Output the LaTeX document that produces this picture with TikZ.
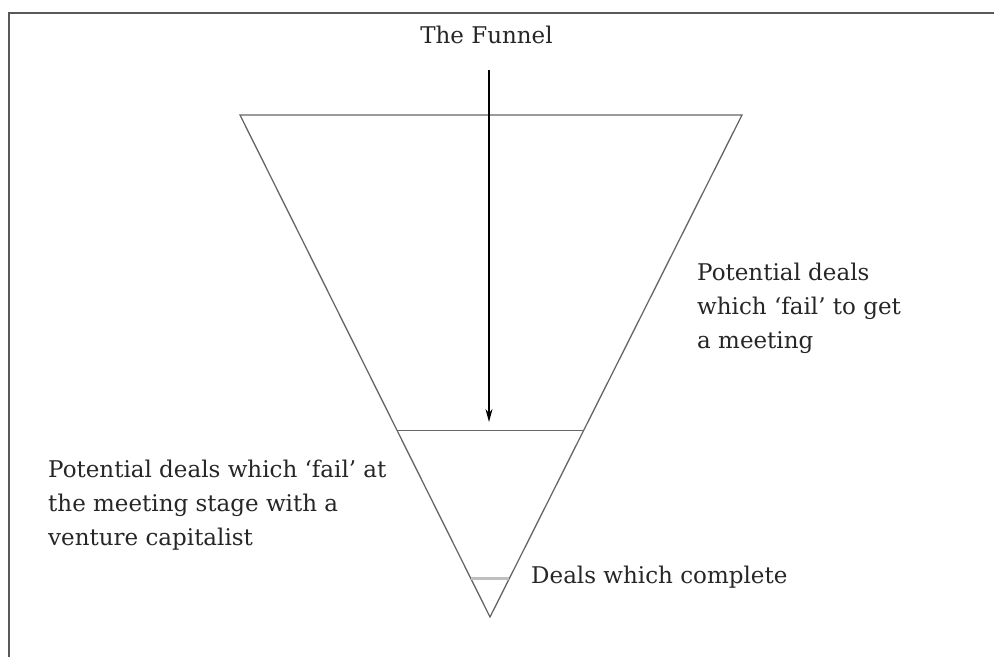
\documentclass[tikz,border=0pt]{standalone}
\usepackage{fontspec}
\setmainfont{DejaVu Serif}
\usetikzlibrary{arrows.meta}
\usetikzlibrary{positioning}
\usetikzlibrary{calc}
\usepackage{xcolor}

\begin{document}
\begin{tikzpicture}[
        x=1pt, y=-1pt,
        lbl/.style={inner sep=0pt, align=left, text=black!85, font=\fontsize{23}{34}\selectfont},
        funnel/.style={draw=black!60, line width=1.3pt},
        frame/.style={draw=black!65, line width=2pt},
        >={Stealth[length=13pt,width=7pt]}
    ]
        \useasboundingbox (0,0) rectangle (994,657);
        \draw[frame] (8.5,657) -- (8.5,13) -- (994,13);

        % the funnel
        \coordinate (TL) at (240,115);
        \coordinate (TR) at (742,115);
        \coordinate (V) at (490,617);
        \draw[funnel] (TL) -- (TR) -- (V) -- cycle;
        \draw[funnel] ($(TL)!0.629!(V)$) coordinate (ML) -- ($(TR)!0.629!(V)$) coordinate (MR);
        \draw[draw=black!25, line width=3pt] ($(TL)!0.924!(V)$) coordinate (BL) -- ($(TR)!0.924!(V)$) coordinate (BR);

        \node[lbl, anchor=base] (title) at (486.5,43) {The Funnel};
        \coordinate (start) at (489,70);
        \coordinate (stop) at (489,422);
        \draw[->, line width=1.3pt] (start) -- (stop);

        \node[lbl, anchor=west] (nomeet) at (697,308) {Potential deals\\which `fail' to get\\a meeting};
        \node[lbl, anchor=west] (nodeal) at (48,505) {Potential deals which `fail' at\\the meeting stage with a\\venture capitalist};
        \node[lbl, anchor=base west] (done) at (531,583) {Deals which complete};
    \end{tikzpicture}
\end{document}
